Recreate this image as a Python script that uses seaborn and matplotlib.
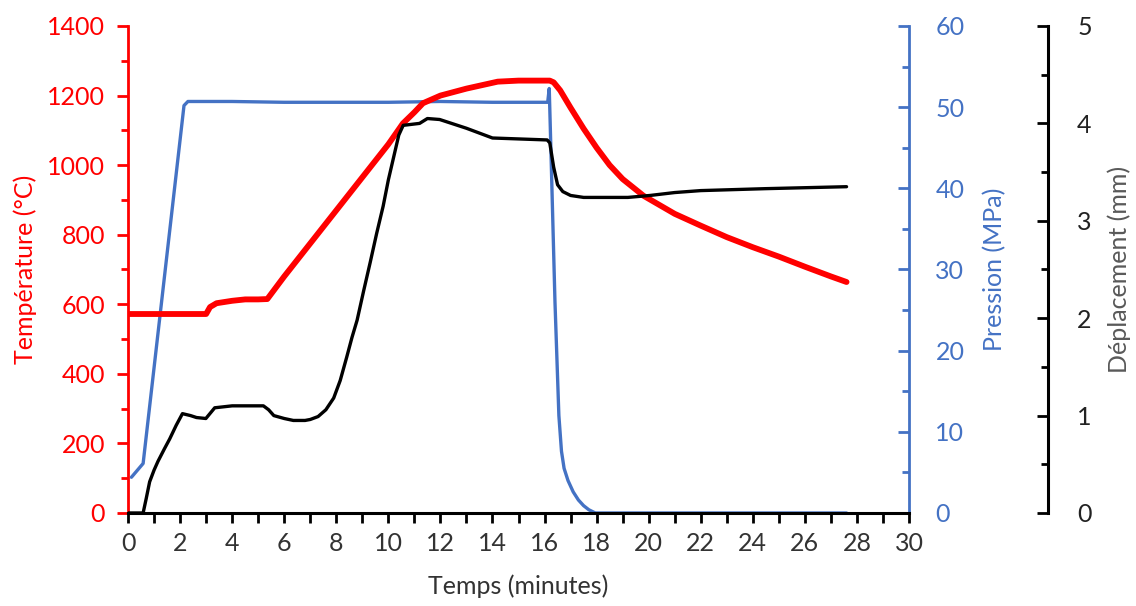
import numpy as np
import pandas as pd
from matplotlib import pyplot as plt
from matplotlib.ticker import MultipleLocator
import seaborn as sns

# Temperature (red, left axis)
t_temp = [0, 3.0, 3.15, 3.4, 4.0, 4.5, 5.0, 5.35, 6, 7, 8, 9, 10, 10.56, 11.0, 11.33,
          12, 13, 14.2, 15, 16.2, 16.35, 16.6, 17.0, 17.5, 18.0, 18.5, 19.0, 19.8,
          21, 22, 23, 24, 25, 26, 27, 27.6]
temp = [572, 572, 592, 603, 610, 614, 614, 615, 680, 775, 870, 965, 1060, 1120, 1152, 1178,
        1200, 1220, 1240, 1243, 1243, 1238, 1215, 1165, 1105, 1050, 1000, 960, 912,
        860, 826, 793, 764, 737, 708, 680, 664]

# Pressure (blue, first right axis)
t_pres = [0.13, 0.58, 2.15, 2.3, 4, 6, 8, 10, 12, 14, 16.12, 16.18, 16.25, 16.4, 16.55,
          16.65, 16.75, 16.9, 17.1, 17.3, 17.5, 17.7, 17.95, 27.6]
pres = [4.4, 6.1, 50.2, 50.7, 50.7, 50.6, 50.6, 50.6, 50.7, 50.6, 50.6, 52.3, 44, 26, 12,
        7.6, 5.5, 4.0, 2.6, 1.6, 0.9, 0.4, 0, 0]

# Displacement (black, second right axis)
t_disp = [0, 0.58, 0.7, 0.83, 1.0, 1.15, 1.4, 1.6, 1.85, 2.09, 2.4, 2.63, 2.99, 3.33,
          4.0, 5.2, 5.4, 5.6, 6.0, 6.35, 6.8, 7.0, 7.3, 7.6, 7.9, 8.15, 8.4, 8.6, 8.8,
          9.05, 9.3, 9.55, 9.8, 10.0, 10.2, 10.4, 10.57, 11.2, 11.5, 11.97, 13, 14.0,
          16.1, 16.2, 16.35, 16.5, 16.7, 17.0, 17.5, 19.2, 20.05, 21, 22, 24.5, 27.6]
disp = [0, 0, 0.15, 0.32, 0.44, 0.53, 0.66, 0.76, 0.9, 1.02, 1.0, 0.98, 0.97, 1.08,
        1.10, 1.10, 1.06, 1.0, 0.97, 0.95, 0.95, 0.96, 0.99, 1.06, 1.18, 1.36, 1.6, 1.8, 1.98,
        2.28, 2.57, 2.87, 3.15, 3.42, 3.65, 3.88, 3.98, 4.0, 4.05, 4.04, 3.95, 3.85,
        3.83, 3.8, 3.55, 3.37, 3.3, 3.26, 3.24, 3.24, 3.26, 3.29, 3.31, 3.33, 3.35]

RED = "#FF0000"
BLUE = "#4472C4"
FS = 18

sns.set_style("ticks")
plt.rcParams['font.family'] = ['Lato', 'DejaVu Sans']

fig = plt.figure(figsize=(11.36, 6.06), dpi=100)
ax = fig.add_axes([0.1127, 0.1535, 0.6875, 0.8036])
ax2 = ax.twinx()
ax3 = ax.twinx()

# red on top of blue, black on top of all
ax2.set_zorder(1)
ax.set_zorder(2)
ax3.set_zorder(3)
ax.patch.set_visible(False)

sns.lineplot(x=t_pres, y=pres, ax=ax2, color=BLUE, linewidth=2.4)
sns.lineplot(x=t_temp, y=temp, ax=ax, color=RED, linewidth=4.2)
sns.lineplot(x=t_disp, y=disp, ax=ax3, color="black", linewidth=2.4)

# x axis
ax.set_xlim(0, 30)
ax.xaxis.set_major_locator(MultipleLocator(2))
ax.xaxis.set_minor_locator(MultipleLocator(1))
ax.tick_params(axis="x", which="both", direction="out", length=7, width=2,
               color="black", labelsize=FS, labelcolor="#333333", pad=7)
ax.set_xlabel("Temps (minutes)", fontsize=FS, color="#333333", labelpad=14)

# temperature axis
ax.set_ylim(0, 1400)
ax.yaxis.set_major_locator(MultipleLocator(200))
ax.yaxis.set_minor_locator(MultipleLocator(100))
ax.tick_params(axis="y", which="major", direction="out", length=8, width=2,
               color=RED, labelsize=FS, labelcolor=RED, pad=8.5)
ax.tick_params(axis="y", which="minor", direction="out", length=5, width=2, color=RED)
ax.set_ylabel("Température (°C)", fontsize=FS, color=RED)
ax.yaxis.set_label_coords(-0.1165, 0.5)
for s in ["top", "right"]:
    ax.spines[s].set_visible(False)
ax.spines["left"].set_color(RED)
ax.spines["left"].set_linewidth(2)
ax.spines["bottom"].set_color("black")
ax.spines["bottom"].set_linewidth(2.2)

# pressure axis
ax2.set_ylim(0, 60)
ax2.yaxis.set_major_locator(MultipleLocator(10))
ax2.yaxis.set_minor_locator(MultipleLocator(5))
ax2.tick_params(axis="y", which="major", direction="in", length=8, width=2,
                color=BLUE, labelsize=FS, labelcolor=BLUE, pad=19)
ax2.tick_params(axis="y", which="minor", direction="in", length=5, width=2, color=BLUE)
ax2.set_ylabel("Pression (MPa)", fontsize=FS, color=BLUE)
ax2.yaxis.set_label_coords(1.095, 0.5)
for s in ["top", "left", "bottom"]:
    ax2.spines[s].set_visible(False)
ax2.spines["right"].set_color(BLUE)
ax2.spines["right"].set_linewidth(2)

# displacement axis
ax3.set_ylim(0, 5)
ax3.yaxis.set_major_locator(MultipleLocator(1))
ax3.yaxis.set_minor_locator(MultipleLocator(0.5))
ax3.spines["right"].set_position(("axes", 1.178))
ax3.tick_params(axis="y", which="major", direction="in", length=8, width=2,
                color="black", labelsize=FS, labelcolor="#222222", pad=21)
ax3.tick_params(axis="y", which="minor", direction="in", length=5, width=2, color="black")
ax3.set_ylabel("Déplacement (mm)", fontsize=FS, color="#595959")
ax3.yaxis.set_label_coords(1.254, 0.5)
for s in ["top", "left", "bottom"]:
    ax3.spines[s].set_visible(False)
ax3.spines["right"].set_color("black")
ax3.spines["right"].set_linewidth(2.2)

plt.savefig("out.png", dpi=100)
